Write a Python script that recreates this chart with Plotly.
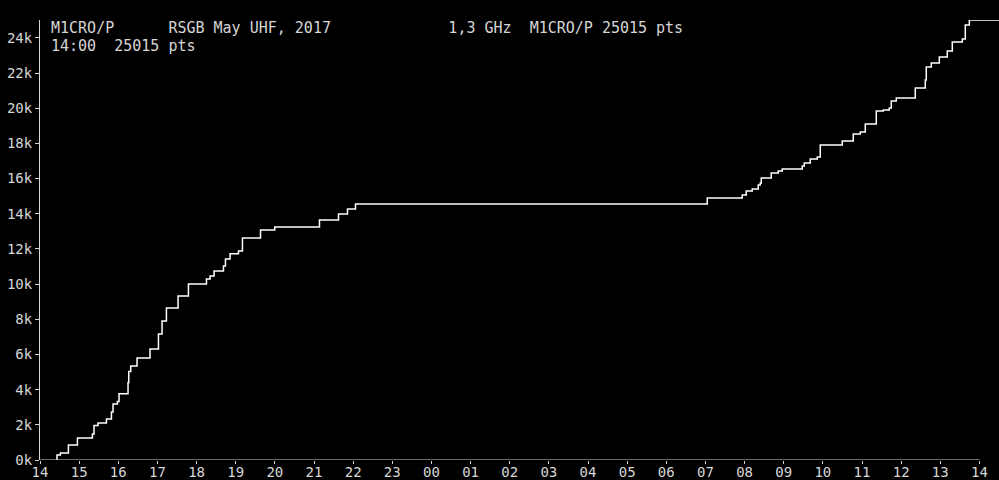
import plotly.graph_objects as go

# Hours since 14:00 at which the running score steps up, and score after the step
step_hours = [0.434, 0.434, 0.521, 0.726, 0.956, 1.339, 1.380, 1.482, 1.697, 1.825,
              1.866, 1.978, 2.019, 2.249, 2.267, 2.318, 2.479, 2.811, 3.026, 3.118,
              3.230, 3.527, 3.792, 4.253, 4.345, 4.447, 4.687, 4.738, 4.856, 5.070,
              5.172, 5.633, 5.998, 7.140, 7.626, 7.856, 8.060, 17.046, 17.940, 18.042,
              18.196, 18.349, 18.400, 18.426, 18.681, 18.860, 18.962, 19.474, 19.525, 19.678,
              19.857, 19.934, 20.496, 20.777, 20.956, 21.084, 21.365, 21.544, 21.697, 21.748,
              21.876, 22.361, 22.617, 22.642, 22.770, 22.975, 23.179, 23.307, 23.563, 23.639,
              23.742, 24.5]
score_pts = [0, 284, 398, 853, 1250, 1478, 1967, 2103, 2331, 2729,
             3183, 3331, 3769, 4412, 5037, 5344, 5799, 6310, 7163, 7902,
             8641, 9323, 10006, 10290, 10461, 10745, 11029, 11427, 11728, 11882,
             12621, 13076, 13246, 13644, 13985, 14269, 14553, 14894, 15065, 15292,
             15406, 15633, 15747, 16031, 16315, 16429, 16543, 16714, 16884, 17112,
             17225, 17908, 18135, 18533, 18647, 19102, 19841, 19898, 20011, 20409,
             20580, 21149, 21603, 22342, 22570, 22911, 23252, 23764, 23934, 24730,
             25015, 25015]

hour_ticks = list(range(0, 25))
hour_labels = ["14", "15", "16", "17", "18", "19", "20", "21", "22", "23",
               "00", "01", "02", "03", "04", "05", "06", "07", "08", "09",
               "10", "11", "12", "13", "14"]
score_ticks = list(range(0, 24001, 2000))
score_labels = ["0k", "2k", "4k", "6k", "8k", "10k", "12k", "14k", "16k", "18k",
                "20k", "22k", "24k"]

title_line1 = "M1CRO/P      RSGB May UHF, 2017             1,3 GHz  M1CRO/P 25015 pts"
title_line2 = "14:00  25015 pts"

FONT = "DejaVu Sans Mono"
GREY = "#d6d6d6"

fig = go.Figure()
fig.add_trace(go.Scatter(
    x=step_hours, y=score_pts, mode="lines",
    line=dict(color="#ffffff", width=1.5, shape="hv"),
    hoverinfo="skip", showlegend=False,
))

fig.update_layout(
    width=999, height=480,
    margin=dict(l=40, r=0, t=20, b=20),
    paper_bgcolor="#000000", plot_bgcolor="#000000",
    font=dict(family=FONT, size=15, color=GREY),
    xaxis=dict(range=[0, 24.5], tickvals=hour_ticks, ticktext=hour_labels,
               automargin=False,
               showgrid=False, zeroline=False, showline=False,
               ticks="outside", ticklen=3, tickcolor=GREY, tickwidth=1,
               ticklabelstandoff=-4,
               tickfont=dict(family=FONT, size=14, color=GREY)),
    yaxis=dict(range=[0, 25015], tickvals=score_ticks, ticktext=score_labels,
               automargin=False,
               showgrid=False, zeroline=False, showline=True, linecolor=GREY,
               linewidth=1, ticks="outside", ticklen=4, tickcolor=GREY,
               tickfont=dict(family=FONT, size=14, color=GREY)),
)

# x-axis baseline spans 14:00 to 14:00 only
fig.add_shape(type="line", xref="x", yref="y", x0=hour_ticks[0], x1=hour_ticks[-1],
              y0=0, y1=0, line=dict(color=GREY, width=1))

fig.add_annotation(text=title_line1.replace(" ", "\u00a0"), xref="paper", yref="paper",
                   x=0.009, y=(460 - 28.5) / 440, xanchor="left", yanchor="middle",
                   showarrow=False, font=dict(family=FONT, size=15, color=GREY))
fig.add_annotation(text=title_line2.replace(" ", "\u00a0"), xref="paper", yref="paper",
                   x=0.009, y=(460 - 46) / 440, xanchor="left", yanchor="middle",
                   showarrow=False, font=dict(family=FONT, size=15, color=GREY))

fig.write_html(
    "out.html",
    config={"displayModeBar": False},
    post_script="document.body.style.margin='0';document.body.style.background='#000';"
                "document.documentElement.style.overflow='hidden';",
)
